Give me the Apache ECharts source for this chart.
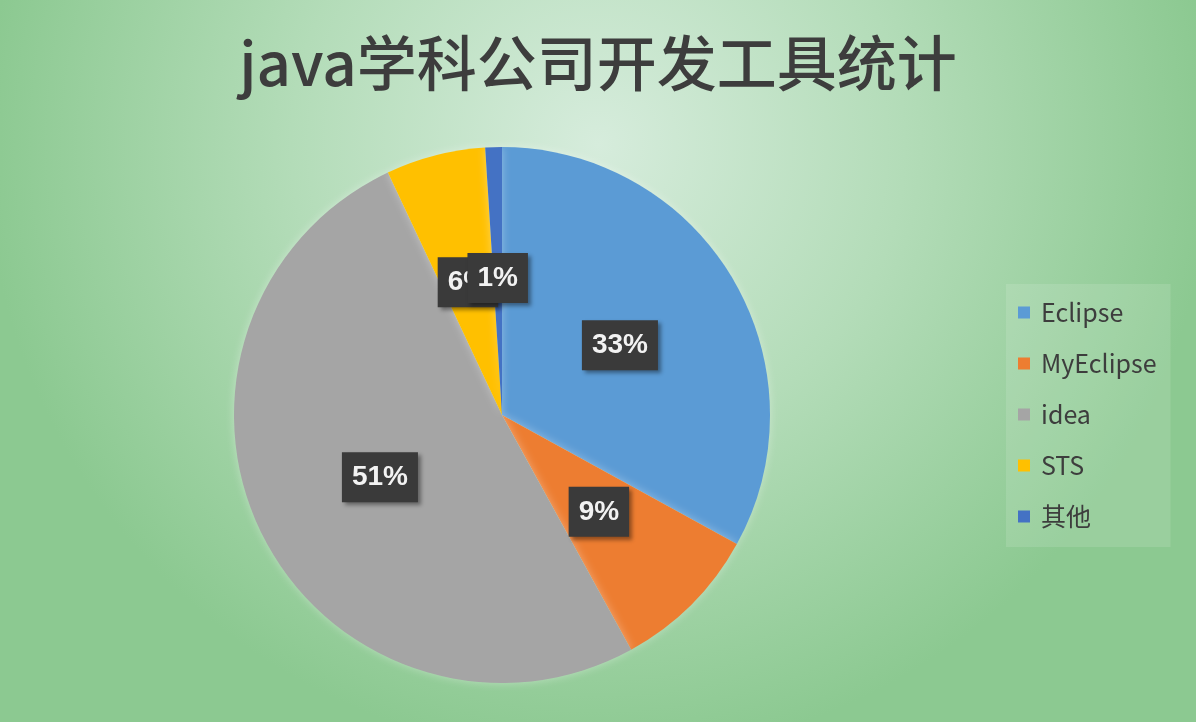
<!DOCTYPE html>
<html><head><meta charset="utf-8">
<script src="https://cdn.jsdelivr.net/npm/echarts@6/dist/echarts.min.js"></script>
<style>html,body{margin:0;padding:0;}#c{width:1196px;height:722px;}</style>
</head><body><div id="c"></div>
<script>
const titleText = 'java学科公司开发工具统计';
const categories = ['Eclipse', 'MyEclipse', 'idea', 'STS', '其他'];
const values = [33, 9, 51, 6, 1];
const colors = ['#5b9bd5', '#ed7d31', '#a5a5a5', '#ffc000', '#4472c4'];

const chart = echarts.init(document.getElementById('c'));
chart.setOption({
  backgroundColor: {
    type: 'radial', x: 0.5, y: 0.2, r: 0.85,
    colorStops: [
      {offset: 0, color: '#d6ecdc'},
      {offset: 0.5, color: '#b3dcb8'},
      {offset: 1, color: '#8cc991'}
    ]
  },
  color: colors,
  title: {
    text: titleText, left: 'center', top: 28,
    textStyle: {fontFamily: 'Noto Sans CJK SC', fontSize: 60, fontWeight: 500, color: '#3d3d3d'}
  },
  legend: {
    orient: 'vertical', left: 1006, top: 284,
    padding: [16, 14, 18, 12],
    backgroundColor: 'rgba(255,255,255,0.12)',
    itemWidth: 12, itemHeight: 12, itemGap: 26,
    icon: 'rect',
    textStyle: {fontFamily: 'Noto Sans CJK SC', fontSize: 25, color: '#3d3d3d', padding: [0, 0, 0, 6]},
    data: categories
  },
  series: [{
    type: 'pie',
    center: [502, 415], radius: 268,
    startAngle: 90, clockwise: true,
    avoidLabelOverlap: false,
    labelLayout: {hideOverlap: false},
    itemStyle: {shadowBlur: 10, shadowColor: 'rgba(255,255,255,0.35)'},
    label: {
      position: 'inside',
      formatter: '{c}%',
      fontFamily: 'Liberation Sans', fontSize: 28, fontWeight: 'bold', color: '#f2f2f2',
      backgroundColor: '#3a3a3a', padding: [12, 10, 10, 10],
      shadowBlur: 4, shadowColor: 'rgba(0,0,0,0.4)', shadowOffsetX: 3, shadowOffsetY: 3
    },
    labelLine: {show: false},
    emphasis: {disabled: true},
    data: categories.map((n, i) => ({name: n, value: values[i]}))
  }]
});
</script></body></html>
